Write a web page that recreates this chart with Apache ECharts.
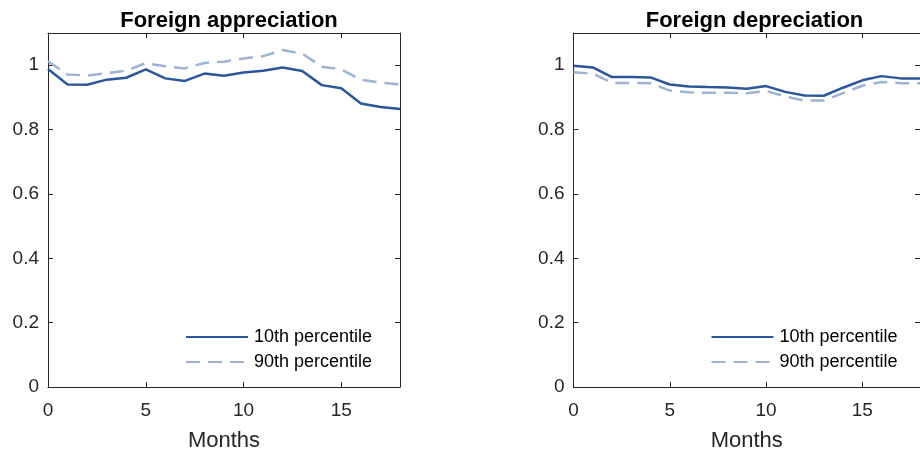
<!DOCTYPE html>
<html>
<head>
<meta charset="utf-8">
<script src="https://cdn.jsdelivr.net/npm/echarts@6/dist/echarts.min.js"></script>
<style>
  html, body { margin: 0; padding: 0; background: #fff; }
  #chart { width: 920px; height: 457px; }
</style>
</head>
<body>
<div id="chart"></div>
<script>
// months 0..18
var months = [0, 1, 2, 3, 4, 5, 6, 7, 8, 9, 10, 11, 12, 13, 14, 15, 16, 17, 18];
var panelTitles = ["Foreign appreciation", "Foreign depreciation"];
var seriesNames = ["10th percentile", "90th percentile"];

// foreign appreciation
var appP10 = [0.988, 0.94, 0.939, 0.955, 0.961, 0.987, 0.959, 0.951, 0.974, 0.967, 0.977, 0.983, 0.993, 0.982, 0.938, 0.928, 0.881, 0.870, 0.864];
var appP90 = [1.012, 0.971, 0.968, 0.975, 0.983, 1.006, 0.997, 0.99, 1.007, 1.011, 1.021, 1.028, 1.047, 1.036, 0.995, 0.987, 0.955, 0.946, 0.94];
// foreign depreciation
var depP10 = [0.998, 0.993, 0.963, 0.963, 0.962, 0.94, 0.934, 0.932, 0.931, 0.927, 0.935, 0.917, 0.906, 0.905, 0.93, 0.953, 0.966, 0.959, 0.959];
var depP90 = [0.978, 0.974, 0.945, 0.945, 0.944, 0.921, 0.916, 0.914, 0.914, 0.913, 0.92, 0.903, 0.89, 0.89, 0.913, 0.936, 0.948, 0.944, 0.944];

var FONT = "Liberation Sans, Arial, Helvetica, sans-serif";
var AXC = "#262626";
var C_SOLID = "#2b579a";
var C_DASH = "#9fb3d2";

var chart = echarts.init(document.getElementById("chart"));

var grids = [
  { left: 48, top: 33, width: 352, height: 356 },
  { left: 573.5, top: 33, width: 353, height: 356 }
];

function pair(vals) {
  return vals.map(function (v, i) { return [months[i], v]; });
}

var xAxes = [], yAxes = [], series = [], titles = [], legends = [];
grids.forEach(function (g, i) {
  // bottom axis
  xAxes.push({
    type: "value", gridIndex: i, min: 0, max: 18, interval: 5,
    name: "Months", nameLocation: "middle", nameGap: 43,
    nameTextStyle: { fontFamily: FONT, fontSize: 22, color: AXC },
    axisLine: { onZero: false, lineStyle: { color: AXC, width: 1 } },
    axisTick: { inside: true, length: 5, lineStyle: { color: AXC } },
    axisLabel: { fontFamily: FONT, fontSize: 19, color: AXC, margin: 14, showMaxLabel: false },
    splitLine: { show: false }
  });
  // top edge of the box
  xAxes.push({
    type: "value", gridIndex: i, position: "top", min: 0, max: 18, interval: 5,
    axisLine: { onZero: false, lineStyle: { color: AXC, width: 1 } },
    axisTick: { inside: true, length: 5, lineStyle: { color: AXC } },
    axisLabel: { show: false }, splitLine: { show: false }
  });
  yAxes.push({
    type: "value", gridIndex: i, min: 0, max: 1.1, interval: 0.2,
    axisLine: { show: true, onZero: false, lineStyle: { color: AXC, width: 1 } },
    axisTick: { show: true, inside: true, length: 5, lineStyle: { color: AXC } },
    axisLabel: { fontFamily: FONT, fontSize: 19, color: AXC, margin: 9, showMaxLabel: false },
    splitLine: { show: false }
  });
  // right edge of the box
  yAxes.push({
    type: "value", gridIndex: i, position: "right", min: 0, max: 1.1, interval: 0.2,
    axisLine: { show: true, onZero: false, lineStyle: { color: AXC, width: 1 } },
    axisTick: { show: true, inside: true, length: 5, lineStyle: { color: AXC } },
    axisLabel: { show: false }, splitLine: { show: false }
  });
  titles.push({
    text: panelTitles[i], left: g.left + 176, top: 5, textAlign: "center",
    textStyle: { fontFamily: FONT, fontSize: 22, fontWeight: "bold", color: "#000" }
  });
  legends.push({
    orient: "vertical", left: g.left + 132, top: 323,
    itemWidth: 62, itemHeight: 14, itemGap: 7,
    data: seriesNames, selectedMode: false,
    itemStyle: { opacity: 0 },
    textStyle: { fontFamily: FONT, fontSize: 18, color: "#000", padding: [0, 0, 0, 1] }
  });
});

var data = [[appP10, appP90], [depP10, depP90]];
data.forEach(function (d, i) {
  series.push({
    name: seriesNames[0], type: "line", xAxisIndex: i * 2, yAxisIndex: i * 2,
    data: pair(d[0]), symbol: "none", z: 3,
    lineStyle: { color: C_SOLID, width: 2.5 }, itemStyle: { color: C_SOLID }
  });
  series.push({
    name: seriesNames[1], type: "line", xAxisIndex: i * 2, yAxisIndex: i * 2,
    data: pair(d[1]), symbol: "none", z: 2,
    lineStyle: { color: C_DASH, width: 2.5, type: [14, 8] }, itemStyle: { color: C_DASH }
  });
});

var option = {
  animation: false,
  backgroundColor: "#fff",
  title: titles,
  grid: grids,
  xAxis: xAxes,
  yAxis: yAxes,
  legend: legends,
  series: series
};
chart.setOption(option);
</script>
</body>
</html>
